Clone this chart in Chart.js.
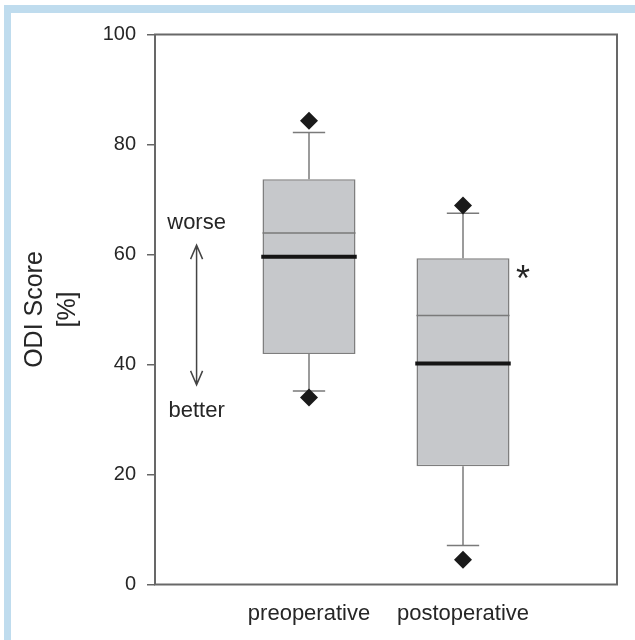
<!DOCTYPE html>
<html>
<head>
<meta charset="utf-8">
<title>ODI Score</title>
<script src="https://cdn.jsdelivr.net/npm/chart.js@4.4.1/dist/chart.umd.min.js"></script>
<style>
  html, body { margin: 0; padding: 0; background: #fff; }
  #wrap { position: relative; width: 635px; height: 640px; overflow: hidden; }
  #band { position: absolute; left: 4px; top: 5px; right: 0; bottom: 0;
          border-left: 7px solid #bfdcee; border-top: 8px solid #bfdcee; }
  canvas { position: absolute; left: 0; top: 0; }
</style>
</head>
<body>
<div id="wrap">
  <div id="band"></div>
  <canvas id="odi" width="635" height="640"></canvas>
</div>
<script>
// values
const categories = ['preoperative', 'postoperative'];
const q1 = [41.9, 21.5];
const q3 = [73.7, 59.3];
const medians = [59.6, 40.2];
const means = [63.9, 48.9];
const whiskerLow = [35.2, 7.1];
const whiskerHigh = [82.2, 67.5];
const outlierLow = [34.0, 4.5];
const outlierHigh = [84.3, 68.9];
const yTicks = [0, 20, 40, 60, 80, 100];
const significant = [false, true];

const FONT = '"Liberation Sans", Arial, sans-serif';
const TEXT = '#262626';
const BOX_HALF = 0.302;
const CAP_HALF = 0.105;

Chart.defaults.font.family = FONT;

// helpers to build segment lists (null y breaks the line)
function hLines(values, half) {
    let pts = [];
    values.forEach((v, i) => {
        let c = i + 1;
        pts.push({x: c - half, y: v}, {x: c + half, y: v}, {x: c, y: null});
    });
    return pts;
}

function whiskerPoints() {
    let pts = [];
    categories.forEach((cat, i) => {
        let c = i + 1;
        pts.push({x: c, y: q3[i]}, {x: c, y: whiskerHigh[i]}, {x: c, y: null});
        pts.push({x: c - CAP_HALF, y: whiskerHigh[i]}, {x: c + CAP_HALF, y: whiskerHigh[i]}, {x: c, y: null});
        pts.push({x: c, y: q1[i]}, {x: c, y: whiskerLow[i]}, {x: c, y: null});
        pts.push({x: c - CAP_HALF, y: whiskerLow[i]}, {x: c + CAP_HALF, y: whiskerLow[i]}, {x: c, y: null});
    });
    return pts;
}

let outlierPts = [];
categories.forEach((cat, i) => {
    outlierPts.push({x: i + 1, y: outlierHigh[i]}, {x: i + 1, y: outlierLow[i]});
});

const extras = {
    id: 'extras',
    afterDatasetsDraw(chart) {
        const {ctx, chartArea: a, scales: {x, y}} = chart;
        ctx.save();
        // frame round the plot
        ctx.strokeStyle = '#686868';
        ctx.lineWidth = 2;
        ctx.strokeRect(a.left, a.top, a.right - a.left, a.bottom - a.top);

        // worse / better arrow
        const ax = x.getPixelForValue(0.27);
        const yt = y.getPixelForValue(61.7);
        const yb = y.getPixelForValue(36.3);
        ctx.strokeStyle = '#444';
        ctx.lineWidth = 1.5;
        ctx.beginPath();
        ctx.moveTo(ax, yt); ctx.lineTo(ax, yb);
        ctx.moveTo(ax - 6, yt + 14); ctx.lineTo(ax, yt); ctx.lineTo(ax + 6, yt + 14);
        ctx.moveTo(ax - 6, yb - 14); ctx.lineTo(ax, yb); ctx.lineTo(ax + 6, yb - 14);
        ctx.stroke();

        ctx.fillStyle = TEXT;
        ctx.font = '22px ' + FONT;
        ctx.textAlign = 'center';
        ctx.textBaseline = 'middle';
        ctx.fillText('worse', ax, y.getPixelForValue(65.7));
        ctx.fillText('better', ax, y.getPixelForValue(31.5));

        // significance mark
        ctx.font = '36px ' + FONT;
        ctx.textBaseline = 'alphabetic';
        significant.forEach((s, i) => {
            if (s) ctx.fillText('*', x.getPixelForValue(i + 1.39), y.getPixelForValue(q3[i] - 6));
        });
        ctx.restore();
    }
};

const ctx = document.getElementById('odi').getContext('2d');

new Chart(ctx, {
    type: 'bar',
    data: {
        datasets: [
            {
                type: 'line',
                data: outlierPts,
                showLine: false,
                pointStyle: 'rectRot',
                pointRadius: 9,
                pointBackgroundColor: '#1a1a1a',
                pointBorderColor: '#1a1a1a',
                pointBorderWidth: 0
            },
            {
                type: 'line',
                data: hLines(medians, 0.31),
                borderColor: '#151515',
                borderWidth: 4,
                pointRadius: 0,
                spanGaps: false,
                fill: false
            },
            {
                type: 'line',
                data: hLines(means, BOX_HALF),
                borderColor: '#7a7a7a',
                borderWidth: 1.5,
                pointRadius: 0,
                spanGaps: false,
                fill: false
            },
            {
                type: 'line',
                data: whiskerPoints(),
                borderColor: '#7a7a7a',
                borderWidth: 1.5,
                pointRadius: 0,
                spanGaps: false,
                fill: false
            },
            {
                type: 'bar',
                data: categories.map((c, i) => ({x: i + 1, y: [q1[i], q3[i]]})),
                backgroundColor: '#c6c8cb',
                borderColor: '#7e7e7e',
                borderWidth: 1.5,
                borderSkipped: false,
                barPercentage: 0.604,
                categoryPercentage: 1.0
            }
        ]
    },
    options: {
        responsive: false,
        animation: false,
        layout: { padding: { top: 34.5, right: 18, bottom: 0, left: 0 } },
        plugins: {
            legend: { display: false },
            tooltip: { enabled: false }
        },
        scales: {
            x: {
                type: 'linear',
                min: 0,
                max: 3,
                offset: false,
                afterBuildTicks: s => { s.ticks = categories.map((c, i) => ({value: i + 1})); },
                afterFit: s => { s.height = 55.5; },
                grid: { display: true, offset: false, drawOnChartArea: false, drawTicks: false },
                border: { display: false },
                ticks: {
                    padding: 16,
                    color: TEXT,
                    font: { size: 22 },
                    autoSkip: false,
                    maxRotation: 0,
                    callback: v => categories[v - 1] || ''
                }
            },
            y: {
                min: 0,
                max: 100,
                afterBuildTicks: s => { s.ticks = yTicks.map(v => ({value: v})); },
                afterFit: s => { s.width = 155; },
                grid: { drawOnChartArea: false, tickLength: 8, color: '#666', lineWidth: 1.5 },
                border: { display: false },
                ticks: { padding: 11, color: TEXT, font: { size: 20 } },
                title: {
                    display: true,
                    text: ['ODI Score', '[%]'],
                    color: TEXT,
                    font: { size: 25, lineHeight: 1.3 },
                    padding: { top: 19, bottom: 0 }
                }
            }
        }
    },
    plugins: [extras]
});
</script>
</body>
</html>
